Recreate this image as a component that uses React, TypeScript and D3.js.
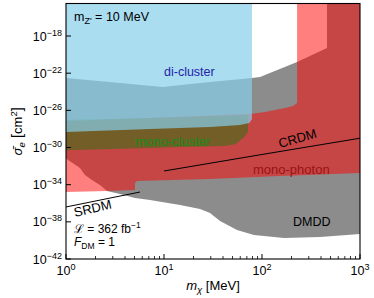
import * as d3 from "d3"

// masses in MeV, cross sections as log10(σ_e / cm²)
const massTicks = [1, 10, 100, 1000]
const sigmaTickExps = [-42, -38, -34, -30, -26, -22, -18]
const minorMassTicks = [2, 3, 4, 5, 6, 7, 8, 9, 20, 30, 40, 50, 60, 70, 80, 90, 200, 300, 400, 500, 600, 700, 800, 900]

const dmddRegion: [number, number][] = [
  [1, -22.52], [3.56, -23.05], [9.7, -23.49], [23.3, -23.05], [79, -22.52], [95.5, -22.41],
  [228, -20.8], [460, -19.29], [460, -14.5], [1000, -14.5],
  [1000, -39.31], [391, -39.63], [168, -39.74], [82.8, -39.42], [55.6, -38.88], [37.3, -37.91],
  [29.5, -37.05], [23.3, -36.62], [14.6, -36.19], [7.2, -35.65], [5.06, -35.43], [3.56, -35.0],
  [2.62, -34.68], [2.22, -34.03], [1.84, -33.5], [1.56, -32.96], [1.39, -32.2], [1.05, -31.34], [1, -31.13],
]

const monoPhotonRegion: [number, number][] = [
  [1, -27.15], [7.2, -26.82], [75.5, -26.39], [107, -26.18], [172, -25.75], [207, -25.53], [228, -25.21],
  [228, -14.5], [1000, -14.5],
  [1000, -32.74], [153, -33.07], [29.5, -33.39], [5.3, -33.6], [5.06, -33.82], [5.06, -34.57],
  [2.62, -34.68], [1, -34.79],
]

const monoClusterRegion: [number, number][] = [
  [1, -27.04], [7.2, -26.82], [72, -26.5], [72, -28.33], [65.5, -28.9], [54.4, -29.62],
  [41.9, -29.84], [14.6, -29.95], [7.2, -30.05], [1, -30.3],
]

const diClusterRegion: [number, number][] = [
  [1, -14.5], [79, -14.5], [79, -26.93], [74.3, -27.37], [59.7, -27.58], [29.5, -27.79],
  [7.2, -28.01], [1, -28.33],
]

const crdmLine: [number, number][] = [[10, -32.53], [100, -30.75], [1000, -29.0]]
const srdmLine: [number, number][] = [[1, -36.4], [5.69, -34.79]]

const W = 374
const H = 298
const L = 66, R = 360, T = 3.5, B = 259

export default function App() {
  const x = d3.scaleLog().domain([1, 1000]).range([L, R])
  const y = d3.scaleLog().domain([1e-42, Math.pow(10, -14.5)]).range([B, T])

  const line = d3
    .line<[number, number]>()
    .x((d) => x(d[0]))
    .y((d) => y(Math.pow(10, d[1])))
  const poly = (pts: [number, number][]) => line(pts) + "Z"

  const font = "'Liberation Sans', Arial, Helvetica, sans-serif"

  return (
    <svg width={W} height={H} style={{ position: "absolute", left: 0, top: 0, background: "#fff" }} fontFamily={font}>
      <defs>
        <clipPath id="plot">
          <rect x={L} y={T} width={R - L} height={B - T} />
        </clipPath>
      </defs>
      <g clipPath="url(#plot)">
        <path d={poly(dmddRegion)} fill="#8c8c8c" />
        <path d={poly(monoPhotonRegion)} fill="#ff0000" fillOpacity={0.5} />
        <path d={poly(monoClusterRegion)} fill="#008000" fillOpacity={0.42} />
        <path d={poly(diClusterRegion)} fill="#87ceeb" fillOpacity={0.7} />
        <path d={line(crdmLine)!} fill="none" stroke="#000" strokeWidth={1} />
        <path d={line(srdmLine)!} fill="none" stroke="#000" strokeWidth={1} />
      </g>

      {/* region labels */}
      <text x={164} y={76} fontSize={12.5} fill="#2323a8">di-cluster</text>
      <text x={135} y={146} fontSize={13} fill="#1a8a1a">mono-cluster</text>
      <text x={253} y={174} fontSize={13} fill="#9b1212">mono-photon</text>
      <text x={293} y={226} fontSize={12.5} fill="#000">DMDD</text>
      <text transform="translate(280,148) rotate(-16)" fontSize={13} fill="#000">CRDM</text>
      <text transform="translate(75,217) rotate(-13)" fontSize={13} fill="#000">SRDM</text>

      {/* annotations */}
      <text x={74} y={21} fontSize={12.5}>
        m<tspan fontSize={9} dy={3}>Z'</tspan>
        <tspan dy={-3}> = 10 MeV</tspan>
      </text>
      <text x={74} y={233} fontSize={12}>
        ℒ = 362 fb<tspan fontSize={8.5} dy={-5}>−1</tspan>
      </text>
      <text x={74} y={246} fontSize={12}>
        <tspan fontStyle="italic">F</tspan>
        <tspan fontSize={8.5} dy={3}>DM</tspan>
        <tspan dy={-3}> = 1</tspan>
      </text>

      {/* x ticks */}
      {massTicks.map((m) => (
        <g key={"xm" + m}>
          <line x1={x(m)} x2={x(m)} y1={B} y2={B - 5} stroke="#000" />
          <text x={x(m)} y={275} fontSize={12.5} textAnchor="middle">
            10<tspan fontSize={9} dy={-5}>{Math.round(Math.log10(m))}</tspan>
          </text>
        </g>
      ))}
      {minorMassTicks.map((m) => (
        <line key={"xn" + m} x1={x(m)} x2={x(m)} y1={B} y2={B - 3} stroke="#000" strokeWidth={0.8} />
      ))}

      {/* y ticks */}
      {sigmaTickExps.map((e) => (
        <g key={"y" + e}>
          <line x1={L} x2={L + 5} y1={y(Math.pow(10, e))} y2={y(Math.pow(10, e))} stroke="#000" />
          <text x={62} y={y(Math.pow(10, e)) + 4.5} fontSize={12.5} textAnchor="end">
            10<tspan fontSize={9} dy={-5}>{"−" + Math.abs(e)}</tspan>
          </text>
        </g>
      ))}

      <rect x={L} y={T} width={R - L} height={B - T} fill="none" stroke="#000" strokeWidth={1.1} />

      {/* axis titles */}
      <text x={(L + R) / 2} y={290} fontSize={13} textAnchor="middle">
        <tspan fontStyle="italic">m</tspan>
        <tspan fontSize={9.5} dy={3} fontStyle="italic">χ</tspan>
        <tspan dy={-3}> [MeV]</tspan>
      </text>
      <text transform={`translate(22,${(T + B) / 2}) rotate(-90)`} fontSize={13} textAnchor="middle">
        <tspan fontStyle="italic">σ̄</tspan>
        <tspan fontSize={9.5} dy={3} fontStyle="italic">e</tspan>
        <tspan dy={-3} fontSize={15}> [</tspan>
        <tspan fontSize={13}>cm</tspan>
        <tspan fontSize={9.5} dy={-5}>2</tspan>
        <tspan fontSize={15} dy={5}>]</tspan>
      </text>
    </svg>
  )
}
